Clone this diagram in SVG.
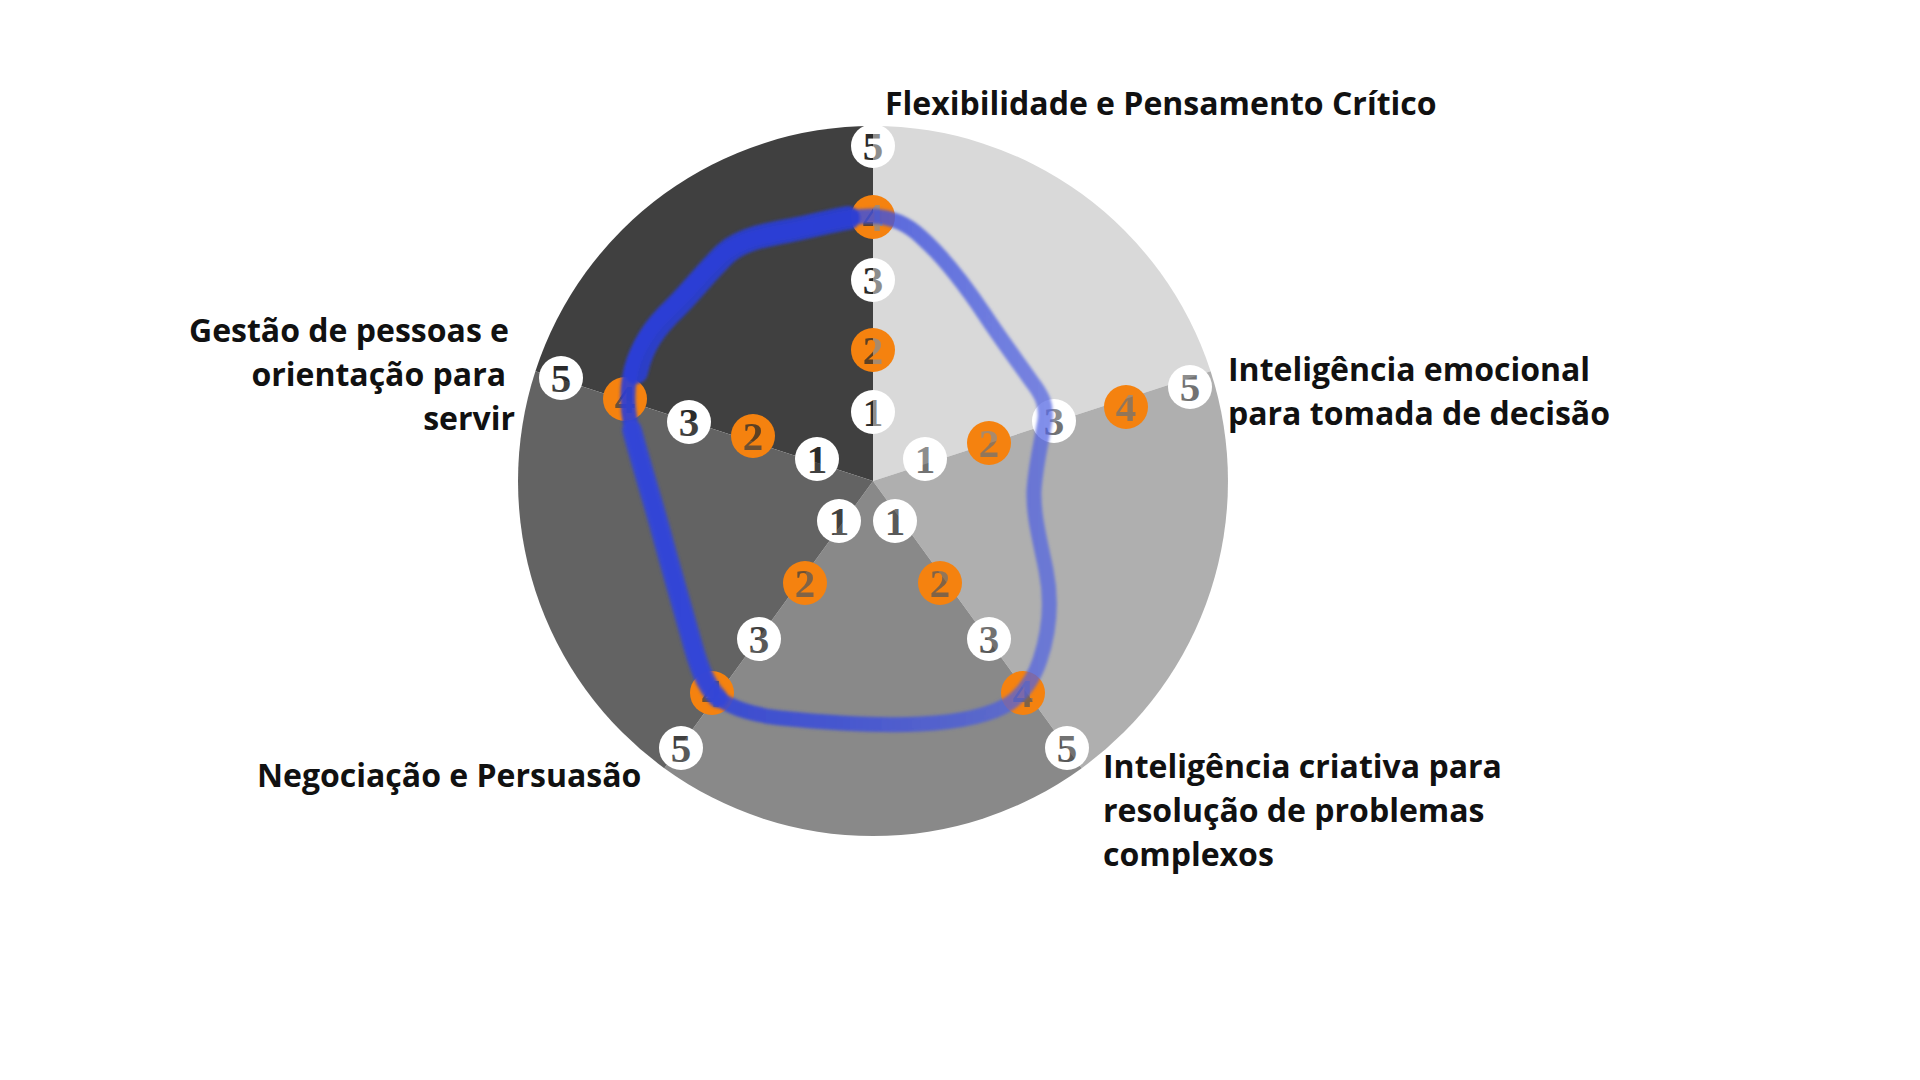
<svg xmlns="http://www.w3.org/2000/svg" width="1920" height="1080" viewBox="0 0 1920 1080">
  <defs>
    <style>
      .lbl { font-family: "Open Sans", "Noto Sans", "Liberation Sans", sans-serif; font-weight: 700; font-size: 32px; fill: #111111; }
      .mw { fill: #ffffff; }
      .mo { fill: #f5820f; }
      .dg { font-family: "Liberation Serif", "DejaVu Serif", serif; font-weight: 700; font-size: 41px; text-anchor: middle; fill: url(#dk); }
      .dgo { opacity: 0.75; }
    </style>
    <pattern id="dk" patternUnits="userSpaceOnUse" x="0" y="0" width="1920" height="1080">
      <rect width="1920" height="1080" fill="#8d8d8d"/>
      <path d="M873,481 L873,126 A355,355 0 0 0 535.4,371.3 L0,371.3 L0,0 L873,0 Z" fill="#2a2a2a"/>
      <path d="M873,481 L873,126 A355,355 0 0 1 1210.6,371.3 Z" fill="#8d8d8d"/>
      <path d="M873,481 L1210.6,371.3 A355,355 0 0 1 1081.7,768.2 Z" fill="#727272"/>
      <path d="M873,481 L1081.7,768.2 A355,355 0 0 1 664.3,768.2 Z" fill="#595959"/>
      <path d="M873,481 L664.3,768.2 A355,355 0 0 1 535.4,371.3 Z" fill="#404040"/>
      <path d="M873,481 L535.4,371.3 L873,126 Z" fill="#2a2a2a"/>
    </pattern>
    <linearGradient id="blueGrad" gradientUnits="userSpaceOnUse" x1="620" y1="0" x2="1050" y2="0">
      <stop offset="0" stop-color="#2a3ed6" stop-opacity="0.92"/>
      <stop offset="0.5" stop-color="#3a4ddb" stop-opacity="0.85"/>
      <stop offset="1" stop-color="#5163e2" stop-opacity="0.72"/>
    </linearGradient>
    <filter id="soft" x="-10%" y="-10%" width="120%" height="120%">
      <feGaussianBlur stdDeviation="1.6"/>
    </filter>
  </defs>

  <rect width="1920" height="1080" fill="#ffffff"/>

  <g id="sectors">
    <path d="M873,481 L873,126 A355,355 0 0 0 535.4,371.3 Z" fill="#404040"/>
    <path d="M873,481 L873,126 A355,355 0 0 1 1210.6,371.3 Z" fill="#d9d9d9"/>
    <path d="M873,481 L1210.6,371.3 A355,355 0 0 1 1081.7,768.2 Z" fill="#afafaf"/>
    <path d="M873,481 L1081.7,768.2 A355,355 0 0 1 664.3,768.2 Z" fill="#898989"/>
    <path d="M873,481 L664.3,768.2 A355,355 0 0 1 535.4,371.3 Z" fill="#636363"/>
  </g>

  <g id="markers">
    <g id="axis-top">
      <circle class="mw" cx="873" cy="412" r="22"/><text class="dg" x="873" y="426">1</text>
      <circle class="mo" cx="873" cy="350" r="22"/><text class="dg dgo" x="873" y="364">2</text>
      <circle class="mw" cx="873" cy="280" r="22"/><text class="dg" x="873" y="294">3</text>
      <circle class="mo" cx="873" cy="217" r="22"/><text class="dg dgo" x="873" y="231">4</text>
      <circle class="mw" cx="873" cy="146" r="22"/><text class="dg" x="873" y="160">5</text>
    </g>
    <g id="axis-right">
      <circle class="mw" cx="925" cy="459" r="22"/><text class="dg" x="925" y="473">1</text>
      <circle class="mo" cx="989" cy="443" r="22"/><text class="dg dgo" x="989" y="457">2</text>
      <circle class="mw" cx="1054" cy="421" r="22"/><text class="dg" x="1054" y="435">3</text>
      <circle class="mo" cx="1126" cy="407" r="22"/><text class="dg dgo" x="1126" y="421">4</text>
      <circle class="mw" cx="1190" cy="387" r="22"/><text class="dg" x="1190" y="401">5</text>
    </g>
    <g id="axis-lower-right">
      <circle class="mw" cx="895" cy="521" r="22"/><text class="dg" x="895" y="535">1</text>
      <circle class="mo" cx="940" cy="583" r="22"/><text class="dg dgo" x="940" y="597">2</text>
      <circle class="mw" cx="989" cy="639" r="22"/><text class="dg" x="989" y="653">3</text>
      <circle class="mo" cx="1023" cy="693" r="22"/><text class="dg dgo" x="1023" y="707">4</text>
      <circle class="mw" cx="1067" cy="748" r="22"/><text class="dg" x="1067" y="762">5</text>
    </g>
    <g id="axis-lower-left">
      <circle class="mw" cx="839" cy="521" r="22"/><text class="dg" x="839" y="535">1</text>
      <circle class="mo" cx="805" cy="583" r="22"/><text class="dg dgo" x="805" y="597">2</text>
      <circle class="mw" cx="759" cy="639" r="22"/><text class="dg" x="759" y="653">3</text>
      <circle class="mo" cx="712" cy="693" r="22"/><text class="dg dgo" x="712" y="707">4</text>
      <circle class="mw" cx="681" cy="748" r="22"/><text class="dg" x="681" y="762">5</text>
    </g>
    <g id="axis-upper-left">
      <circle class="mw" cx="817" cy="459" r="22"/><text class="dg" x="817" y="473">1</text>
      <circle class="mo" cx="753" cy="436" r="22"/><text class="dg dgo" x="753" y="450">2</text>
      <circle class="mw" cx="689" cy="422" r="22"/><text class="dg" x="689" y="436">3</text>
      <circle class="mo" cx="625" cy="399" r="22"/><text class="dg dgo" x="625" y="413">4</text>
      <circle class="mw" cx="561" cy="378" r="22"/><text class="dg" x="561" y="392">5</text>
    </g>
  </g>

  <g id="score-curve" filter="url(#soft)" fill="none" stroke="url(#blueGrad)" stroke-linecap="round" stroke-linejoin="round">
    <path stroke-width="15" d="M873,216 C890,217 905,222 920,236 C945,258 965,285 985,315 C1000,338 1018,362 1032,382 C1042,395 1047,405 1045,420 C1042,440 1036,462 1034,490 C1033,515 1040,540 1046,570 C1052,600 1050,630 1040,660 C1034,678 1025,692 1010,703 C990,716 960,722 920,724 C880,726 830,723 780,718 C755,715 735,710 718,698 C705,685 698,665 690,635 C680,600 670,565 660,528 C650,492 640,460 632,430 C626,405 627,380 634,360 C642,338 655,322 672,307 C690,290 705,270 722,255 C740,240 760,236 790,231 C820,225 845,216 873,216 Z"/>
    <path stroke-width="24" stroke="#2a3ed6" stroke-opacity="0.9" d="M636,372 C642,345 655,327 674,309 C692,291 707,271 726,253 C742,239 765,235 792,230 C812,226 830,221 848,218"/>
    <path stroke-width="20" stroke="#3246d8" stroke-opacity="0.85" d="M632,430 C640,460 650,492 660,528 C670,565 680,600 690,635 C698,665 705,685 718,698"/>
  </g>

  <g id="labels">
    <g id="label-flexibilidade">
      <text class="lbl" x="885" y="115">Flexibilidade e Pensamento Crítico</text>
    </g>
    <g id="label-inteligencia-emocional">
      <text class="lbl" x="1228" y="381">Inteligência emocional</text>
      <text class="lbl" x="1228" y="425">para tomada de decisão</text>
    </g>
    <g id="label-inteligencia-criativa">
      <text class="lbl" x="1103" y="778">Inteligência criativa para</text>
      <text class="lbl" x="1103" y="822">resolução de problemas</text>
      <text class="lbl" x="1103" y="866">complexos</text>
    </g>
    <g id="label-negociacao">
      <text class="lbl" x="257" y="787">Negociação e Persuasão</text>
    </g>
    <g id="label-gestao">
      <text class="lbl" x="509" y="342" text-anchor="end">Gestão de pessoas e</text>
      <text class="lbl" x="506" y="386" text-anchor="end">orientação para</text>
      <text class="lbl" x="515" y="430" text-anchor="end">servir</text>
    </g>
  </g>
</svg>
